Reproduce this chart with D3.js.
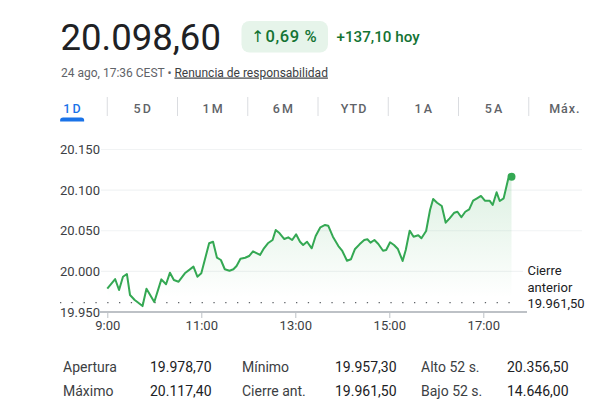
<!DOCTYPE html>
<html><head><meta charset="utf-8">
<script src="https://cdn.jsdelivr.net/npm/d3@7"></script>
<style>
body{margin:0;background:#fff;}
svg{display:block;font-family:Roboto,"Noto Sans",Arial,sans-serif;}
</style>
</head><body>
<svg id="c" width="592" height="418"></svg>
<script>
// ---- data ----
const times = ["9:00","9:10","9:15","9:20","9:25","9:29","9:35","9:45","9:50","10:00",
"10:09","10:15","10:20","10:25","10:31","10:39","10:50","10:55","11:00","11:10",
"11:15","11:20","11:25","11:30","11:36","11:41","11:45","11:50","11:56","12:01",
"12:06","12:15","12:20","12:25","12:31","12:35","12:40","12:46","12:51","12:56",
"13:01","13:06","13:10","13:15","13:21","13:26","13:32","13:38","13:42","13:48",
"13:55","14:00","14:06","14:11","14:16","14:22","14:28","14:32","14:36","14:41",
"14:46","14:52","14:56","15:01","15:06","15:11","15:17","15:21","15:26","15:31",
"15:37","15:41","15:47","15:52","15:56","16:01","16:07","16:12","16:17","16:23",
"16:27","16:32","16:37","16:42","16:47","16:52","16:57","17:02","17:08","17:12",
"17:17","17:21","17:26","17:32","17:36"];
const values = [19978.7,19990.6,19977.1,19993.4,19996.8,19970.9,19964.8,19957.3,19978.7,19962.3,
19990.2,19984.1,19998.4,19989.4,19987.3,19997.6,20005.8,19993.4,19997.6,20034.6,
20036.5,20016.8,20014.0,20002.6,20000.8,20002.6,20006.6,20015.6,20016.8,20018.9,
20024.7,20020.2,20028.4,20034.6,20038.6,20050.9,20046.9,20039.8,20041.9,20038.6,
20045.6,20036.5,20032.5,20036.5,20028.4,20043.5,20054.2,20057.1,20056.2,20042.7,
20031.2,20025.1,20013.1,20014.9,20027.2,20033.3,20038.6,20039.5,20035.3,20038.6,
20033.7,20025.4,20026.3,20035.8,20032.5,20027.5,20012.8,20026.3,20050.1,20042.7,
20044.4,20040.7,20049.7,20075.5,20089.1,20084.5,20080.5,20059.9,20065.3,20072.2,
20073.4,20066.6,20073.4,20076.4,20087.0,20089.9,20092.8,20087.0,20087.0,20081.7,
20097.3,20086.6,20089.9,20114.6,20116.5];
const yTicks = [19950,20000,20050,20100,20150];
const xTicks = ["9:00","11:00","13:00","15:00","17:00"];
const xDomain = ["9:00","18:00"];
const prevClose = 19961.5;
const prevCloseLabel = ["Cierre","anterior"];
const priceText = "20.098,60";
const changeArrow = "↑";
const changePct = "0,69 %";
const changeAbs = "+137,10 hoy";
const dateText = "24 ago, 17:36 CEST • ";
const linkText = "Renuncia de responsabilidad";
const tabs = ["1D","5D","1M","6M","YTD","1A","5A","Máx."];
const statLabels = ["Apertura","Máximo","Mínimo","Cierre ant.","Alto 52 s.","Bajo 52 s."];
const statValues = ["19.978,70","20.117,40","19.957,30","19.961,50","20.356,50","14.646,00"];

// ---- setup ----
const svg = d3.select("#c");
const loc = d3.formatLocale({decimal:",",thousands:".",grouping:[3],currency:["",""]});
const fmt0 = loc.format(",.0f"), fmt2 = loc.format(",.2f");
const parse = d3.timeParse("%H:%M");
const data = times.map((t,i)=>({t:parse(t),v:values[i]}));

const x = d3.scaleTime().domain(xDomain.map(parse)).range([107.3,530.3]);
const y = d3.scaleLinear().domain([19950,20150]).range([312,149.5]);

// header
svg.append("text").attr("x",60.5).attr("y",49.5).attr("font-size",36.5).attr("fill","#202124").text(priceText);
svg.append("rect").attr("x",241.5).attr("y",21).attr("width",86.5).attr("height",31.5).attr("rx",8).attr("fill","#e6f4ea");
svg.append("text").attr("x",251).attr("y",42).attr("font-size",16).attr("font-family","'DejaVu Sans',sans-serif")
  .attr("fill","#137333").text(changeArrow);
svg.append("text").attr("x",265.5).attr("y",42).attr("font-size",16.5).attr("font-weight",500).attr("letter-spacing",0.6)
  .attr("fill","#137333").text(changePct);
svg.append("text").attr("x",336.5).attr("y",42).attr("font-size",15.2).attr("font-weight",500).attr("fill","#137333").text(changeAbs);
const sub = svg.append("text").attr("x",61).attr("y",76.5).attr("font-size",12).attr("fill","#5f6368");
sub.append("tspan").text(dateText);
sub.append("tspan").attr("fill","#3c4043").attr("text-decoration","underline").text(linkText);

// tabs
const tb = d3.scaleBand().domain(tabs).range([37,599]);
svg.append("g").selectAll("text").data(tabs).join("text")
  .attr("x",d=>tb(d)+tb.bandwidth()/2+1).attr("y",112.5).attr("text-anchor","middle")
  .attr("font-size",12.5).attr("font-weight",500).attr("letter-spacing",d=>d.length===2?2.2:1)
  .attr("fill",(d,i)=>i===0?"#1a73e8":"#5f6368").text(d=>d);
svg.append("g").selectAll("line").data(tabs.slice(1)).join("line")
  .attr("x1",d=>tb(d)).attr("x2",d=>tb(d)).attr("y1",97).attr("y2",116)
  .attr("stroke","#dadce0").attr("stroke-width",1);
{
  const cx = tb(tabs[0])+tb.bandwidth()/2;
  svg.append("path").attr("fill","#1a73e8")
    .attr("d",`M${cx-12},121.5 L${cx-12},120 Q${cx-12},117.5 ${cx-9},117.5 L${cx+9},117.5 Q${cx+12},117.5 ${cx+12},120 L${cx+12},121.5 Z`);
}

// gridlines
svg.append("g").selectAll("line").data(yTicks.slice(1)).join("line")
  .attr("x1",101).attr("x2",582).attr("y1",d=>y(d)).attr("y2",d=>y(d))
  .attr("stroke","#f1f3f4").attr("stroke-width",1.2);

// y labels
svg.append("g").selectAll("text").data(yTicks).join("text")
  .attr("x",60).attr("y",d=>y(d)).attr("dy","0.35em").attr("font-size",13)
  .attr("fill","#3c4043").text(d=>fmt0(d));

// area gradient
const defs = svg.append("defs");
const gr = defs.append("linearGradient").attr("id","g").attr("gradientUnits","userSpaceOnUse")
  .attr("x1",0).attr("x2",0).attr("y1",y(d3.max(values))).attr("y2",y(prevClose)-5);
gr.append("stop").attr("offset",0).attr("stop-color","#34a853").attr("stop-opacity",0.17);
gr.append("stop").attr("offset",1).attr("stop-color","#34a853").attr("stop-opacity",0);
svg.append("path").datum(data).attr("fill","url(#g)")
  .attr("d",d3.area().x(d=>x(d.t)).y0(y(prevClose)).y1(d=>y(d.v)));

// prev close dotted line
svg.append("line").attr("x1",60).attr("x2",520).attr("y1",y(prevClose)).attr("y2",y(prevClose))
  .attr("stroke","#5f6368").attr("stroke-width",1.3).attr("stroke-dasharray","1.3,10.5");

// prev close label with white background
svg.append("rect").attr("x",523).attr("y",262).attr("width",62).attr("height",50).attr("fill","#fff");
const lab = svg.append("g").attr("font-size",13).attr("fill","#202124");
prevCloseLabel.concat([fmt2(prevClose)]).forEach((t,i)=>{
  lab.append("text").attr("x",527.5).attr("y",275+i*16.7).text(t);
});

// line
svg.append("path").datum(data).attr("fill","none").attr("stroke","#34a853").attr("stroke-width",2)
  .attr("stroke-linejoin","round")
  .attr("d",d3.line().x(d=>x(d.t)).y(d=>y(d.v)));
const last = data[data.length-1];
svg.append("circle").attr("cx",x(last.t)).attr("cy",y(last.v)).attr("r",4).attr("fill","#34a853");

// x axis
const xa = svg.append("g").attr("transform",`translate(0,${y(19950)})`)
  .call(d3.axisBottom(x).tickValues(xTicks.map(parse)).tickFormat(d3.timeFormat("%-H:%M")).tickSize(6).tickSizeOuter(0));
xa.select(".domain").remove();
xa.selectAll(".tick line").attr("stroke","#bdc1c6");
xa.selectAll(".tick text").attr("font-size",13).attr("fill","#3c4043").attr("font-family","Roboto,'Noto Sans',Arial,sans-serif").attr("dy","0.92em").attr("y",6);
svg.append("line").attr("x1",100).attr("x2",527).attr("y1",y(19950)).attr("y2",y(19950))
  .attr("stroke","#bdc1c6").attr("stroke-width",2);

// stats
const colL = [63,242,421], colV = [150,335,507], rowY = [372,395.5];
const st = svg.append("g").attr("font-size",14);
statLabels.forEach((t,i)=>{
  const c = Math.floor(i/2), r = i%2;
  st.append("text").attr("x",colL[c]).attr("y",rowY[r]).attr("fill","#3c4043").text(t);
  st.append("text").attr("x",colV[c]).attr("y",rowY[r]).attr("fill","#202124").text(statValues[i]);
});
</script>
</body></html>
